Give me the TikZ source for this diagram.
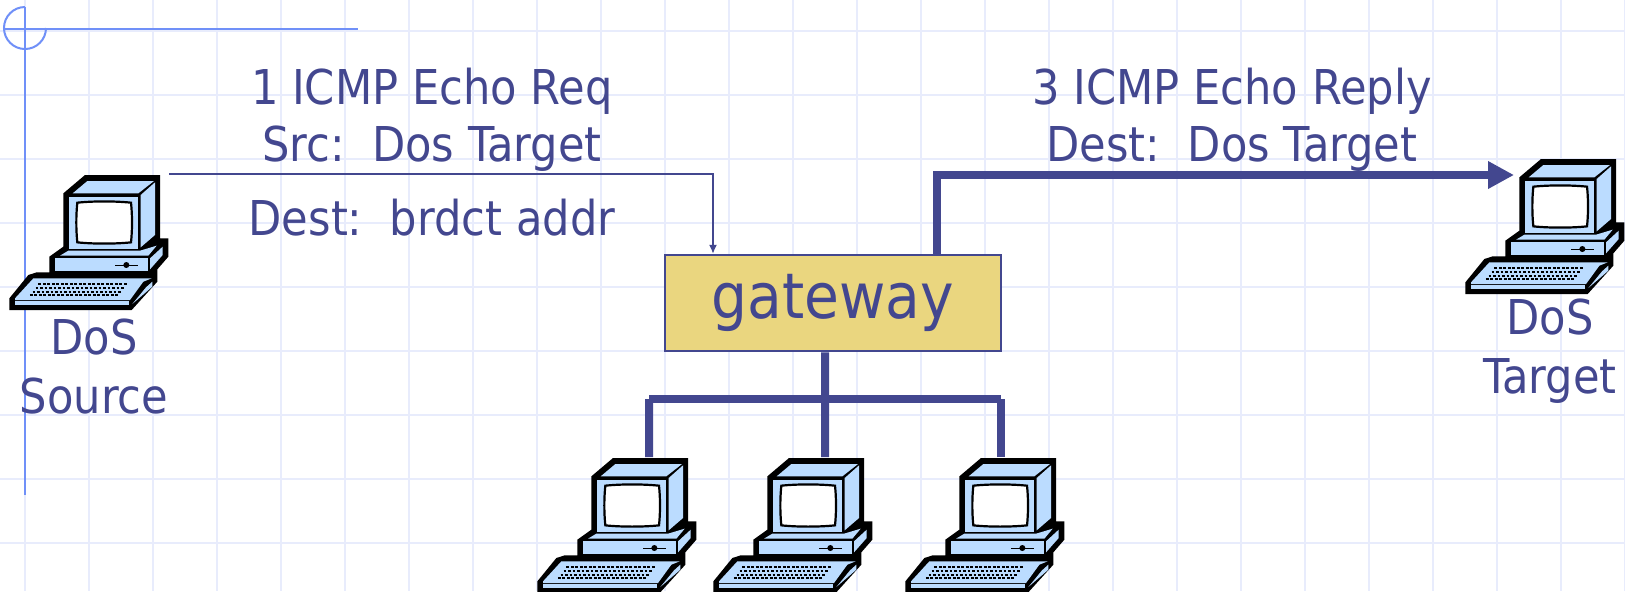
\documentclass[tikz,border=0pt]{standalone}
\usepackage{fontspec}
\setmainfont[FakeStretch=0.9]{DejaVu Sans}
\usepackage{xcolor}
\usetikzlibrary{arrows.meta, positioning, calc}
\definecolor{primary}{RGB}{67, 71, 143}
\definecolor{ruler}{RGB}{112, 144, 248}
\definecolor{gridline}{RGB}{232, 236, 252}
\definecolor{gatefill}{RGB}{234, 214, 127}
\definecolor{pcblue}{RGB}{187, 220, 255}
\tikzstyle{caption} = [text=primary, font=\fontsize{24}{29.5}\selectfont, inner sep=0pt, align=center]
\tikzstyle{router} = [rectangle, minimum width=168pt, minimum height=48.25pt, inner sep=0pt, draw=primary, line width=1pt, fill=gatefill, text=primary, font=\fontsize{31.5}{38}\selectfont]
\tikzstyle{thinarrow} = [draw=primary, line width=0.7pt, -{Latex[length=4.5pt,width=4pt]}]
\tikzstyle{heavyarrow} = [draw=primary, line width=4pt, -{Triangle[length=13pt,width=13pt]}]
\tikzstyle{bus} = [draw=primary, line width=4pt]
\tikzset{
  computer/.pic={
    \begin{scope}[x=0.16667pt, y=-0.16667pt, line join=miter]
      % outline
      \fill[black] (190,130) -- (255,75) -- (480,75) -- (480,265) -- (505,265) -- (505,320) -- (472,358) -- (472,395) -- (395,480) -- (28,480) -- (28,445) -- (85,375) -- (110,367) -- (148,367) -- (148,320) -- (190,290) -- cycle;
      % monitor
      \fill[pcblue] (207,140) rectangle (415,298);
      \fill[pcblue] (218,130) -- (262,93) -- (462,93) -- (415,130) -- cycle;
      \fill[pcblue] (422,135) -- (465,97) -- (465,255) -- (422,292) -- cycle;
      \draw[fill=white, line width=1.1pt] (232,158) .. controls (280,153) and (345,153) .. (393,158) .. controls (397,195) and (397,240) .. (393,277) .. controls (345,282) and (280,282) .. (232,277) .. controls (228,240) and (228,195) .. (232,158) -- cycle;
      % base
      \fill[pcblue] (165,325) rectangle (443,362);
      \fill[pcblue] (180,317) -- (205,302) -- (420,302) -- (470,287) -- (445,317) -- cycle;
      \fill[pcblue] (450,325) -- (488,290) -- (488,315) -- (450,358) -- cycle;
      \draw[line width=0.5pt] (345,345) -- (413,345);
      \fill[black] (379,345) circle (9);
      % keyboard
      \fill[pcblue] (45,445) -- (100,385) -- (455,385) -- (430,395) -- (390,450) -- (45,450) -- cycle;
      \fill[pcblue] (45,453) rectangle (388,465);
      \fill[pcblue] (397,462) -- (438,412) -- (457,395) -- (457,410) -- cycle;
      \foreach \row in {0,1,2,3}
        \draw[line width=0.9pt, dash pattern=on 1.4pt off 0.85pt] ({115-8.5*\row},{403+11*\row}) -- ({380-8.5*\row},{403+11*\row});
      \coordinate (-port) at (363,72);
      \coordinate (-side) at (507,72);
      \coordinate (-entry) at (174,123);
    \end{scope}
  }
}

\begin{document}
\begin{tikzpicture}[x=0.5pt, y=-0.5pt]
    \useasboundingbox (0,0) rectangle (1625,591);
    \clip (0,0) rectangle (1625,591);
    \fill[white] (0,0) rectangle (1625,591);

    % Background grid
    \foreach \gx in {25,89,...,1625}
        \draw[gridline, line width=1pt] (\gx,0) -- (\gx,591);
    \foreach \gy in {31,95,...,591}
        \draw[gridline, line width=1pt] (0,\gy) -- (1625,\gy);

    % Corner ornament
    \draw[ruler, line width=1pt] (25,7) arc[start angle=-90, end angle=-360, radius=21];
    \draw[ruler, line width=1pt] (4,29) -- (358,29);
    \draw[ruler, line width=1pt] (25,7) -- (25,495);

    % Computers
    \pic (source) at (0,150) {computer};
    \pic (target) at (1456,134) {computer};
    \pic (pcA) at (528,433) {computer};
    \pic (pcB) at (704,433) {computer};
    \pic (pcC) at (896,433) {computer};

    % Gateway
    \node[router] (gateway) at (833,303) {gateway};
    \coordinate (busL) at (649,399);
    \coordinate (busR) at (1001,399);
    \coordinate (dropC) at (1001,457);

    % Labels
    \node[caption] (reqA) at (432,120) {1 ICMP Echo Req\\[-1pt]Src:\ \ Dos Target};
    \node[caption] (reqB) at (432,218) {Dest:\ \ brdct addr};
    \node[caption] (repA) at (1232,120) {3 ICMP Echo Reply\\[-1pt]Dest:\ \ Dos Target};
    \node[caption] (srcname) at (94,367) {DoS\\Source};
    \node[caption] (tgtname) at (1550,351) {DoS\\Target};

    % Arrows
    \draw[thinarrow] (source-side) -| ([xshift=-60pt]gateway.north);
    \draw[heavyarrow] ([xshift=52pt]gateway.north) |- (target-entry);
    \draw[bus] ([xshift=-4pt]gateway.south) -- (pcB-port);
    \draw[bus] (busL) -- (busR);
    \draw[bus] (pcA-port) -- (busL);
    \draw[bus] (dropC) -- (busR);

\end{tikzpicture}
\end{document}
